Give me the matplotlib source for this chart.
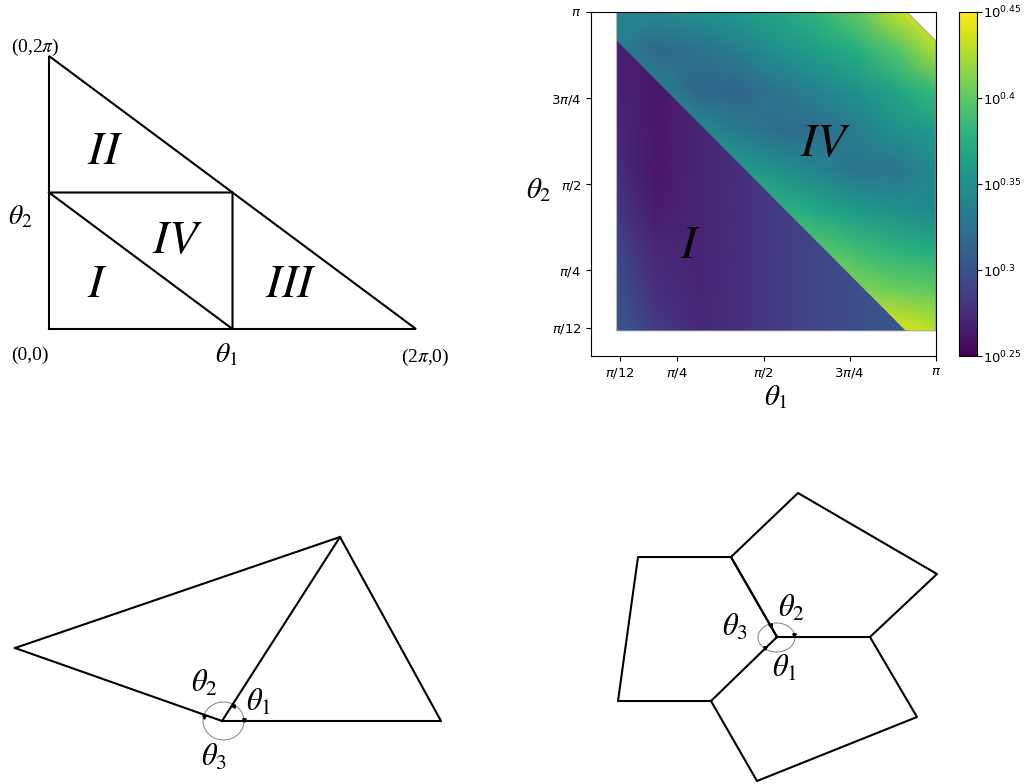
import numpy as np
import matplotlib
matplotlib.use("Agg")
import matplotlib.pyplot as plt
from matplotlib.colors import LogNorm
from matplotlib.patches import Polygon, Ellipse

W, H = 1028, 784

plt.rcParams['mathtext.fontset'] = 'stix'
plt.rcParams['font.family'] = ['Liberation Serif', 'DejaVu Serif']

# heatmap data, exponents of 10
theta_nodes = [0.237, 0.60, 0.965, 1.33, 1.695, 2.06, 2.425, 2.79, 3.142]
region_I = [
    [0.305, 0.285, 0.272, 0.276, 0.285, 0.292, 0.298, 0.304, 0.305],
    [0.298, 0.278, 0.271, 0.276, 0.285, 0.292, 0.298, 0.304, 0.305],
    [0.292, 0.272, 0.270, 0.276, 0.285, 0.292, 0.298, 0.304, 0.305],
    [0.282, 0.265, 0.270, 0.276, 0.285, 0.292, 0.298, 0.304, 0.305],
    [0.275, 0.262, 0.270, 0.276, 0.285, 0.292, 0.298, 0.304, 0.305],
    [0.272, 0.262, 0.270, 0.276, 0.285, 0.292, 0.298, 0.304, 0.305],
    [0.268, 0.262, 0.270, 0.276, 0.285, 0.292, 0.298, 0.304, 0.305],
    [0.268, 0.263, 0.270, 0.276, 0.285, 0.292, 0.298, 0.304, 0.305],
    [0.268, 0.263, 0.270, 0.276, 0.285, 0.292, 0.298, 0.304, 0.305],
]
region_IV = [
    [0.440, 0.440, 0.440, 0.440, 0.440, 0.450, 0.450, 0.440, 0.430],
    [0.430, 0.430, 0.430, 0.430, 0.430, 0.430, 0.412, 0.405, 0.400],
    [0.420, 0.420, 0.420, 0.420, 0.410, 0.397, 0.387, 0.378, 0.372],
    [0.400, 0.400, 0.400, 0.390, 0.380, 0.369, 0.359, 0.350, 0.343],
    [0.400, 0.390, 0.374, 0.361, 0.352, 0.340, 0.328, 0.328, 0.345],
    [0.390, 0.368, 0.346, 0.333, 0.321, 0.320, 0.334, 0.350, 0.360],
    [0.360, 0.337, 0.316, 0.314, 0.327, 0.340, 0.353, 0.368, 0.385],
    [0.335, 0.317, 0.323, 0.335, 0.350, 0.362, 0.375, 0.395, 0.425],
    [0.340, 0.345, 0.352, 0.358, 0.368, 0.380, 0.400, 0.430, 0.450],
]
theta_min = 0.232
diag_sum = 3.105
corner_cut = 2.88

pi_ticks = [np.pi / 12, np.pi / 4, np.pi / 2, 3 * np.pi / 4, np.pi]
pi_labels = [r'$\pi/12$', r'$\pi/4$', r'$\pi/2$', r'$3\pi/4$', r'$\pi$']
cbar_exps = [0.25, 0.3, 0.35, 0.4, 0.45]
cbar_labels = ['$10^{0.25}$', '$10^{0.3}$', '$10^{0.35}$', '$10^{0.4}$', '$10^{0.45}$']

# top left domain, in theta units
domain_lines = [
    ([0, 2 * np.pi, 0, 0], [0, 0, 2 * np.pi, 0]),
    ([0, np.pi, np.pi, 0], [np.pi, np.pi, 0, np.pi]),
]

# bottom polygons, in picture pixels
tri_outer = [(15, 648), (340, 537), (441, 721), (222, 721), (15, 648)]
tri_inner = [(222, 721), (340, 537)]
tri_center = (223.5, 721)
tri_heads = [(243.5, 720, 'v'), (233, 705.5, '<'), (204, 716.5, 'v')]

penta_1 = [(777, 637), (731, 557), (638, 557), (618, 701), (711, 701), (777, 637)]
penta_2 = [(777, 637), (731, 557), (798, 493), (937, 574), (870, 637), (777, 637)]
penta_3 = [(711, 701), (757, 781), (917, 717), (870, 637)]
penta_center = (776.5, 637.5)
penta_heads = [(794, 635, 'v'), (770, 625, '<'), (765, 648, 'v')]


def px_axes(fig, left, top, right, bottom):
    return fig.add_axes([left / W, 1 - bottom / H, (right - left) / W, (bottom - top) / H])


fig = plt.figure(figsize=(W / 100, H / 100), dpi=100)

# top left, the domain sketch
ax1 = px_axes(fig, 49, 56, 416, 329)
ax1.set_xlim(0, 2 * np.pi)
ax1.set_ylim(0, 2 * np.pi)
ax1.axis('off')
for xs, ys in domain_lines:
    ax1.plot(xs, ys, color='black', lw=1.5, clip_on=False, solid_joinstyle='miter')
ax1.text(-0.24, 6.24, r'(0,2$\pi$)', fontsize=14, ha='center', va='bottom')
ax1.text(-0.33, -0.415, '(0,0)', fontsize=14, ha='center', va='top')
ax1.text(6.44, -0.415, r'(2$\pi$,0)', fontsize=14, ha='center', va='top')
ax1.text(-0.5, np.pi * 0.82, r'$\theta_2$', fontsize=20, ha='center', va='center')
ax1.text(3.03, -0.6, r'$\theta_1$', fontsize=20, ha='center', va='center')
for label, x, y in [('II', 0.96, 4.06), ('IV', 2.2, 2.0), ('I', 0.83, 0.99), ('III', 4.15, 1.0)]:
    ax1.text(x, y, f'$\\mathit{{{label}}}$', fontsize=34, ha='center', va='center')

# top right, the heatmap
ax2 = px_axes(fig, 591.3, 12, 935.8, 356.3)
norm = LogNorm(vmin=10 ** 0.25, vmax=10 ** 0.45)
# region I runs a little under region IV so no white seam shows on the diagonal
seam = diag_sum + 0.03
outline_I = [(theta_min, theta_min), (seam - theta_min, theta_min), (theta_min, seam - theta_min)]
outline_IV = [(diag_sum - theta_min, theta_min), (np.pi, theta_min), (np.pi, corner_cut),
              (corner_cut, np.pi), (theta_min, np.pi), (theta_min, diag_sum - theta_min)]
outline_all = [(theta_min, theta_min), (np.pi, theta_min), (np.pi, corner_cut),
               (corner_cut, np.pi), (theta_min, np.pi)]
for values, outline in [(region_I, outline_I), (region_IV, outline_IV)]:
    mesh = ax2.pcolormesh(theta_nodes, theta_nodes, 10 ** np.array(values), shading='gouraud',
                          cmap='viridis', norm=norm)
    mesh.set_clip_path(Polygon(outline, closed=True, transform=ax2.transData))
ax2.add_patch(Polygon(outline_all, closed=True, fill=False, edgecolor='#8a8f94', lw=0.5))
ax2.set_xlim(0, np.pi)
ax2.set_ylim(0, np.pi)
ax2.set_xticks(pi_ticks)
ax2.set_yticks(pi_ticks)
ax2.set_xticklabels(pi_labels, fontsize=9.5, math_fontfamily='dejavusans')
ax2.set_yticklabels(pi_labels, fontsize=9.5, math_fontfamily='dejavusans')
ax2.set_xlabel(r'$\theta_1$', fontsize=21)
ax2.set_ylabel(r'$\theta_2$', fontsize=21, rotation=0, ha='center', va='center')
ax2.xaxis.set_label_coords(0.536, -0.078)
ax2.yaxis.set_label_coords(-0.152, 0.483)
ax2.text(2.13, 1.93, r'$\mathit{IV}$', fontsize=34, ha='center', va='center')
ax2.text(0.9, 1.0, r'$\mathit{I}$', fontsize=34, ha='center', va='center')

cax = px_axes(fig, 958.5, 12, 977, 356.3)
cbar = fig.colorbar(mesh, cax=cax)
cbar.set_ticks([10 ** e for e in cbar_exps])
cbar.set_ticklabels(cbar_labels, fontsize=9.5, math_fontfamily='dejavusans')
cbar.minorticks_off()
cbar.ax.tick_params(pad=1)

# bottom polygons share one pixel axes
ax3 = px_axes(fig, 0, 440, W, H)
ax3.set_xlim(0, W)
ax3.set_ylim(H, 440)
ax3.axis('off')
for pts in [tri_outer, tri_inner, penta_1, penta_2, penta_3]:
    xs, ys = zip(*pts)
    ax3.plot(xs, ys, color='black', lw=1.5, clip_on=False)
for center, w, h in [(tri_center, 41, 38), (penta_center, 37, 29)]:
    ax3.add_patch(Ellipse(center, w, h, fill=False, edgecolor='#808080', lw=0.7))
for x, y, m in tri_heads + penta_heads:
    ax3.plot(x, y, marker=m, ms=2.5, color='black')
for label, x, y in [(r'$\theta_1$', 259, 703), (r'$\theta_2$', 204, 684), (r'$\theta_3$', 214, 758),
                    (r'$\theta_1$', 785, 669), (r'$\theta_2$', 791, 609), (r'$\theta_3$', 735, 628)]:
    ax3.text(x, y, label, fontsize=22, ha='center', va='center')

fig.savefig('out.png', dpi=100)
